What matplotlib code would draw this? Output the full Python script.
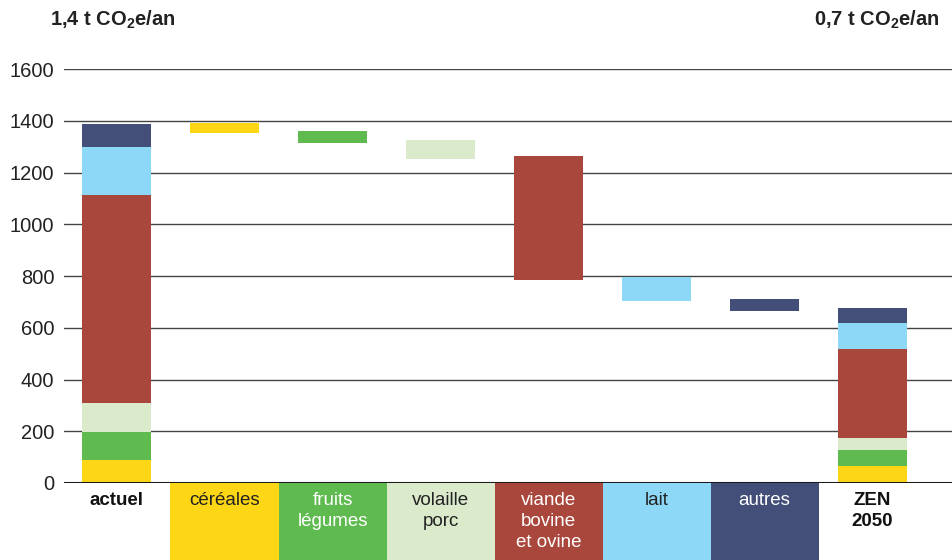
import matplotlib
matplotlib.use("Agg")
import matplotlib.pyplot as plt

plt.rcParams["font.family"] = ["Liberation Sans", "DejaVu Sans"]
plt.rcParams["mathtext.fontset"] = "custom"
plt.rcParams["mathtext.rm"] = "Liberation Sans:bold"
plt.rcParams["mathtext.bf"] = "Liberation Sans:bold"

# data
categories = ["céréales", "fruits\nlégumes", "volaille\nporc", "viande\nbovine\net ovine", "lait", "autres"]
colors = ["#FDD615", "#5FBB50", "#DAEACB", "#A9473C", "#8DD8F6", "#434E79"]
label_colors = ["#222222", "white", "#222222", "white", "#222222", "white"]
actuel = [89, 109, 111, 804, 185, 89]
zen2050 = [66, 62, 46, 344, 100, 58]
step_low = [1352, 1314, 1252, 784, 703, 665]
step_high = [1390, 1360, 1325, 1264, 797, 711]
yticks = [0, 200, 400, 600, 800, 1000, 1200, 1400, 1600]

W, H = 953, 560
fig = plt.figure(figsize=(W / 100, H / 100), dpi=100)
ax = fig.add_axes([64 / W, 77 / H, (W - 64) / W, (483 - 69) / H])

bw = 0.64
n = len(categories)

# stacked bars: actuel (x=0) and ZEN 2050 (x=n+1)
for xpos, vals in [(0, actuel), (n + 1, zen2050)]:
    bottom = 0
    for v, c in zip(vals, colors):
        ax.bar(xpos, v, bottom=bottom, width=bw, color=c, zorder=3)
        bottom += v

# floating reduction bars
for i, (lo, hi, c) in enumerate(zip(step_low, step_high, colors)):
    ax.bar(i + 1, hi - lo, bottom=lo, width=bw, color=c, zorder=3)

# coloured label boxes under the axis
box_depth = 300
ly = -36
for i, (cat, c, tc) in enumerate(zip(categories, colors, label_colors)):
    ax.bar(i + 1, -box_depth, bottom=0, width=1.0, color=c, clip_on=False, zorder=2)
    ax.text(i + 1, ly, cat, ha="center", va="top", fontsize=13.5, color=tc,
            linespacing=1.3, clip_on=False)

ax.text(0, ly, "actuel", ha="center", va="top", fontsize=13.5, fontweight="bold", color="#111111")
ax.text(n + 1, ly, "ZEN\n2050", ha="center", va="top", fontsize=13.5, fontweight="bold",
        color="#111111", linespacing=1.3)

for y in yticks[1:]:
    ax.axhline(y, color="#444444", lw=1.0, zorder=1)
ax.axhline(0, color="#1a1a1a", lw=2.2, zorder=4)

ax.set_xlim(-0.486, n + 1 + 0.745)
ax.set_ylim(0, 1600)
ax.set_yticks(yticks)
ax.set_yticklabels([str(t) for t in yticks], fontsize=14.5, color="#222222")
ax.tick_params(axis="y", length=0, pad=7)
ax.set_xticks([])
for s in ax.spines.values():
    s.set_visible(False)

fig.text(50 / W, 1 - 20 / H, r"1,4 t CO$_{2}$e/an", ha="left", va="center",
         fontsize=14.5, fontweight="bold", color="#222222")
fig.text(940 / W, 1 - 20 / H, r"0,7 t CO$_{2}$e/an", ha="right", va="center",
         fontsize=14.5, fontweight="bold", color="#222222")

fig.savefig("out.png", dpi=100)
